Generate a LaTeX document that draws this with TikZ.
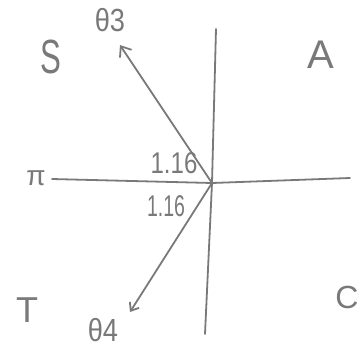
\documentclass[tikz,border=0pt]{standalone}
\usepackage{fontspec}
\setmainfont{Liberation Sans}
\usetikzlibrary{arrows.meta}
\begin{document}
\begin{tikzpicture}[x=1pt,y=-1pt,
  ink/.style={draw=gray!95!black, line width=1.8pt, line cap=round, line join=round},
  lbl/.style={text=gray!95!black, inner sep=0pt}]
\useasboundingbox (0,0) rectangle (360,360);
\coordinate (O) at (212,183);
\coordinate (vt) at (216,29);
\coordinate (vb) at (205,334);
\coordinate (hl) at (52,179);
\coordinate (hr) at (350,178);
\coordinate (t3) at (120,45);
\coordinate (t4) at (130,312);
\draw[ink] (vt) -- (O) -- (vb);
\draw[ink] (hl) -- (O) -- (hr);
\draw[ink, -{Straight Barb[length=9pt,width=14pt]}] (O) -- (t3);
\draw[ink, -{Straight Barb[length=7pt,width=11pt]}] (O) -- (t4);
\node[lbl, font=\fontsize{32}{32}\selectfont] (th3) at (110,20) {\scalebox{0.85}[1]{θ3}};
\node[lbl, font=\fontsize{32}{32}\selectfont] (th4) at (103,330) {\scalebox{0.85}[1]{θ4}};
\node[lbl, font=\fontsize{48}{48}\selectfont] (S) at (51,57) {\scalebox{0.65}[1]{S}};
\node[lbl, font=\fontsize{40}{40}\selectfont] (A) at (321,55) {A};
\node[lbl, font=\fontsize{36}{36}\selectfont] (T) at (27,310) {T};
\node[lbl, font=\fontsize{32}{32}\selectfont] (C) at (347,297) {C};
\node[lbl, font=\fontsize{28}{28}\selectfont] (pi) at (36,178) {π};
\node[lbl, font=\fontsize{30}{30}\selectfont] (a1) at (174,163) {\scalebox{0.8}[1]{1.16}};
\node[lbl, font=\fontsize{30}{30}\selectfont] (a2) at (166,206) {\scalebox{0.65}[1]{1.16}};
\end{tikzpicture}
\end{document}
